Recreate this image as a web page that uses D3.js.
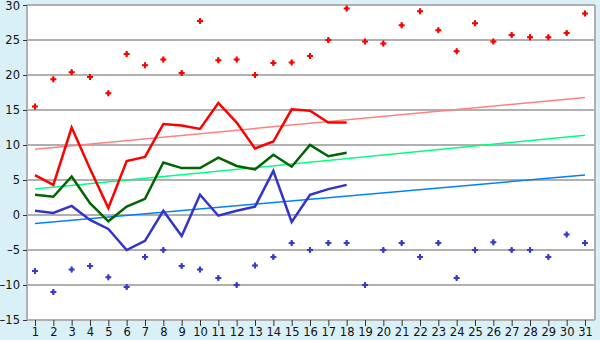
<!DOCTYPE html>
<html>
<head>
<meta charset="utf-8">
<script src="https://cdn.jsdelivr.net/npm/d3@7"></script>
<style>
  body { margin: 0; background: #daf0f7; }
  svg { display: block; }
  .tick-label { font-family: "DejaVu Sans", sans-serif; font-size: 11.5px; fill: #111; }
</style>
</head>
<body>
<div id="chart"></div>
<script>
// days of the month
let days = d3.range(1, 32);

// daily extremes (diamonds)
let maxPoints = [15.5, 19.4, 20.4, 19.7, 17.4, 23.0, 21.4, 22.2, 20.3, 27.7,
                 22.1, 22.2, 20.0, 21.7, 21.8, 22.7, 25.0, 29.5, 24.8, 24.5,
                 27.1, 29.1, 26.4, 23.4, 27.4, 24.8, 25.7, 25.4, 25.4, 26.0, 28.8];
let minPoints = [-8.0, -11.0, -7.8, -7.3, -8.9, -10.3, -6.0, -5.0, -7.3, -7.8,
                 -9.0, -10.0, -7.2, -6.0, -4.0, -5.0, -4.0, -4.0, -10.0, -5.0,
                 -4.0, -6.0, -4.0, -9.0, -5.0, -3.9, -5.0, -5.0, -6.0, -2.8, -4.0];

// measured lines (first 18 days)
let maxLine  = [5.7, 4.3, 12.5, 6.6, 1.0, 7.7, 8.3, 13.0, 12.8, 12.3, 16.0, 13.2, 9.5, 10.5, 15.1, 14.9, 13.2, 13.2];
let meanLine = [2.9, 2.6, 5.5, 1.7, -0.9, 1.2, 2.3, 7.5, 6.7, 6.7, 8.2, 7.0, 6.5, 8.6, 6.9, 10.0, 8.4, 8.9];
let minLine  = [0.6, 0.3, 1.3, -0.7, -2.0, -5.0, -3.7, 0.6, -3.0, 2.9, -0.1, 0.6, 1.2, 6.3, -1.0, 2.9, 3.7, 4.3];

// trend lines: value on day 1 and on day 31
let maxTrend  = [9.4, 16.8];
let meanTrend = [3.7, 11.4];
let minTrend  = [-1.2, 5.7];

let yTicks = d3.range(-15, 31, 5);

let width = 600, height = 340;
let plotLeft = 27, plotRight = 595, plotTop = 5, plotBottom = 320;

let svg = d3.select("#chart").append("svg")
    .attr("width", width)
    .attr("height", height);

let x = d3.scalePoint().domain(days).range([35, 585]);
let y = d3.scaleLinear().domain([-15, 30]).range([plotBottom, plotTop]);

// plot background
svg.append("rect")
    .attr("x", plotLeft).attr("y", plotTop)
    .attr("width", plotRight - plotLeft).attr("height", plotBottom - plotTop)
    .attr("fill", "#ffffff");

// horizontal grid
svg.append("g").selectAll("line")
    .data(yTicks)
    .enter().append("line")
    .attr("x1", plotLeft).attr("x2", plotRight)
    .attr("y1", d => y(d)).attr("y2", d => y(d))
    .attr("stroke", "#b0b0b0")
    .attr("stroke-width", 2);

// right border and left axis line
svg.append("line")
    .attr("x1", plotRight).attr("x2", plotRight)
    .attr("y1", plotTop).attr("y2", plotBottom)
    .attr("stroke", "#b0b0b0").attr("stroke-width", 2);
svg.append("line")
    .attr("x1", plotLeft).attr("x2", plotLeft)
    .attr("y1", plotTop).attr("y2", plotBottom)
    .attr("stroke", "#b0b0b0").attr("stroke-width", 2);

// y axis
let yAxis = svg.append("g")
    .attr("transform", "translate(" + plotLeft + ",0)")
    .call(d3.axisLeft(y).tickValues(yTicks).tickSize(4).tickPadding(3));
yAxis.select(".domain").remove();
yAxis.selectAll(".tick line").attr("stroke", "#333");
yAxis.selectAll(".tick text")
    .attr("class", "tick-label")
    .attr("dy", d => d === 30 ? "0.42em" : "0.32em")
    .text(d => d < 0 ? "\u2013" + Math.abs(d) : d);

// x axis
let xAxis = svg.append("g")
    .attr("transform", "translate(0," + plotBottom + ")")
    .call(d3.axisBottom(x).tickSize(6).tickPadding(3));
xAxis.select(".domain").remove();
xAxis.selectAll(".tick line").attr("stroke", "#333");
xAxis.selectAll(".tick text").attr("class", "tick-label").attr("dy", "0.62em");

// trend lines
let trendData = [
    {vals: maxTrend, color: "#ff8080"},
    {vals: meanTrend, color: "#00ff80"},
    {vals: minTrend, color: "#0080ff"}
];
svg.append("g").selectAll("line")
    .data(trendData)
    .enter().append("line")
    .attr("x1", x(1)).attr("x2", x(31))
    .attr("y1", d => y(d.vals[0])).attr("y2", d => y(d.vals[1]))
    .attr("stroke", d => d.color)
    .attr("stroke-width", 1.5);

// measured lines
let line = d3.line()
    .x((d, i) => x(days[i]))
    .y(d => y(d));

let lineData = [
    {vals: maxLine, color: "#ff0000"},
    {vals: meanLine, color: "#006400"},
    {vals: minLine, color: "#3333cc"}
];
svg.append("g").selectAll("path")
    .data(lineData)
    .enter().append("path")
    .attr("d", d => line(d.vals))
    .attr("fill", "none")
    .attr("stroke", d => d.color)
    .attr("stroke-width", 2.5)
    .attr("stroke-linejoin", "miter");

// extreme markers: small plus with filled diamond centre
let cross = d3.symbol().type(d3.symbolCross).size(20);
let diamond = d3.symbol().type(d3.symbolDiamond).size(12);

function drawMarkers(values, color) {
    let g = svg.append("g").selectAll("g")
        .data(values)
        .enter().append("g")
        .attr("transform", (d, i) => "translate(" + x(days[i]) + "," + y(d) + ")");
    g.append("path").attr("d", cross).attr("fill", color);
    g.append("path").attr("d", diamond).attr("fill", color);
}
drawMarkers(maxPoints, "#ff0000");
drawMarkers(minPoints, "#3a3acc");
</script>
</body>
</html>
